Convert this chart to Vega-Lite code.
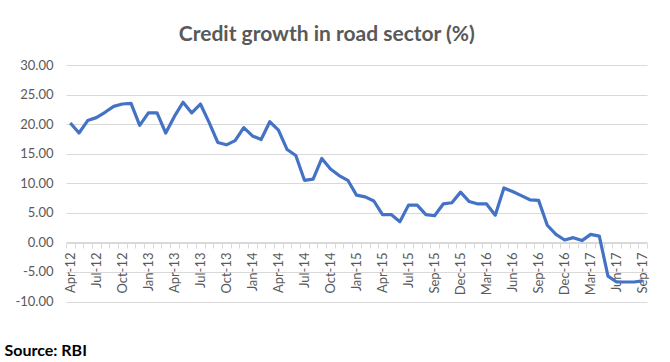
{
  "$schema": "https://vega.github.io/schema/vega-lite/v6.json",
  "autosize": {"type": "none"},
  "width": 581,
  "height": 236.5,
  "padding": {"left": 66, "top": 65, "right": 23, "bottom": 60.5},
  "background": "white",
  "title": {
    "text": "Credit growth in road sector (%)",
    "font": "Lato",
    "fontSize": 21,
    "fontWeight": "bold",
    "color": "#595959",
    "anchor": "middle",
    "frame": "bounds",
    "offset": 14
  },
  "data": {
    "values": [
      {"m": "Apr-12", "v": 20.2}, {"m": "May-12", "v": 18.5}, {"m": "Jun-12", "v": 20.6},
      {"m": "Jul-12", "v": 21.1}, {"m": "Aug-12", "v": 22.0}, {"m": "Sep-12", "v": 23.0},
      {"m": "Oct-12", "v": 23.4}, {"m": "Nov-12", "v": 23.5}, {"m": "Dec-12", "v": 19.8},
      {"m": "Jan-13", "v": 21.9}, {"m": "Feb-13", "v": 21.9}, {"m": "Mar-13", "v": 18.5},
      {"m": "Apr-13", "v": 21.3}, {"m": "May-13", "v": 23.7}, {"m": "Jun-13", "v": 21.9},
      {"m": "Jul-13", "v": 23.4}, {"m": "Aug-13", "v": 20.3}, {"m": "Sep-13", "v": 16.9},
      {"m": "Oct-13", "v": 16.5}, {"m": "Nov-13", "v": 17.2}, {"m": "Dec-13", "v": 19.4},
      {"m": "Jan-14", "v": 18.0}, {"m": "Feb-14", "v": 17.4}, {"m": "Mar-14", "v": 20.4},
      {"m": "Apr-14", "v": 19.0}, {"m": "May-14", "v": 15.7}, {"m": "Jun-14", "v": 14.7},
      {"m": "Jul-14", "v": 10.5}, {"m": "Aug-14", "v": 10.7}, {"m": "Sep-14", "v": 14.2},
      {"m": "Oct-14", "v": 12.4}, {"m": "Nov-14", "v": 11.3}, {"m": "Dec-14", "v": 10.5},
      {"m": "Jan-15", "v": 8.0}, {"m": "Feb-15", "v": 7.7}, {"m": "Mar-15", "v": 7.0},
      {"m": "Apr-15", "v": 4.7}, {"m": "May-15", "v": 4.7}, {"m": "Jun-15", "v": 3.5},
      {"m": "Jul-15", "v": 6.3}, {"m": "Aug-15", "v": 6.3}, {"m": "Aug-15b", "v": 4.7},
      {"m": "Sep-15", "v": 4.5}, {"m": "Oct-15", "v": 6.5}, {"m": "Nov-15", "v": 6.7},
      {"m": "Dec-15", "v": 8.5}, {"m": "Jan-16", "v": 6.9}, {"m": "Feb-16", "v": 6.5},
      {"m": "Mar-16", "v": 6.5}, {"m": "Apr-16", "v": 4.6}, {"m": "May-16", "v": 9.2},
      {"m": "Jun-16", "v": 8.6}, {"m": "Jul-16", "v": 7.9}, {"m": "Aug-16", "v": 7.2},
      {"m": "Sep-16", "v": 7.1}, {"m": "Oct-16", "v": 2.9}, {"m": "Nov-16", "v": 1.35},
      {"m": "Dec-16", "v": 0.4}, {"m": "Jan-17", "v": 0.8}, {"m": "Feb-17", "v": 0.3},
      {"m": "Mar-17", "v": 1.35}, {"m": "Apr-17", "v": 1.06}, {"m": "May-17", "v": -5.7},
      {"m": "Jun-17", "v": -6.7}, {"m": "Jul-17", "v": -6.7}, {"m": "Aug-17", "v": -6.7},
      {"m": "Sep-17", "v": -6.5}
    ]
  },
  "mark": {"type": "line", "color": "#4472C4", "strokeWidth": 3.2, "strokeJoin": "round"},
  "encoding": {
    "x": {
      "field": "m",
      "type": "ordinal",
      "sort": null,
      "bandPosition": 0.5,
      "scale": {"type": "band", "paddingInner": 0, "paddingOuter": 0},
      "axis": {
        "offset": -58.5,
        "labelExpr": "round(datum.index*66) % 3 === 0 ? datum.value : ''",
        "labelAngle": -90,
        "labelOverlap": false,
        "labelFont": "Lato",
        "labelFontSize": 13,
        "labelColor": "#595959",
        "labelPadding": 4,
        "tickBand": "extent",
        "tickColor": "#d9d9d9",
        "tickSize": 5,
        "domainColor": "#d9d9d9",
        "domainWidth": 1,
        "grid": false,
        "title": "Source: RBI",
        "titleFont": "Lato",
        "titleFontSize": 16,
        "titleFontWeight": "bold",
        "titleColor": "#000000",
        "titleAngle": 0,
        "titleAlign": "left",
        "titleBaseline": "alphabetic",
        "titleAnchor": null,
        "titleX": -62,
        "titleY": 112
      }
    },
    "y": {
      "field": "v",
      "type": "quantitative",
      "scale": {"domain": [-10, 30], "nice": false, "zero": false},
      "axis": {
        "values": [-10, -5, 0, 5, 10, 15, 20, 25, 30],
        "labelExpr": "(datum.value < 0 ? '-' : '') + format(abs(datum.value), '.2f')",
        "labelFont": "Lato",
        "labelFontSize": 13,
        "labelColor": "#595959",
        "labelPadding": 13,
        "domain": false,
        "ticks": false,
        "gridColor": "#d9d9d9",
        "gridWidth": 1,
        "title": null
      }
    }
  },
  "config": {"view": {"stroke": null}}
}
